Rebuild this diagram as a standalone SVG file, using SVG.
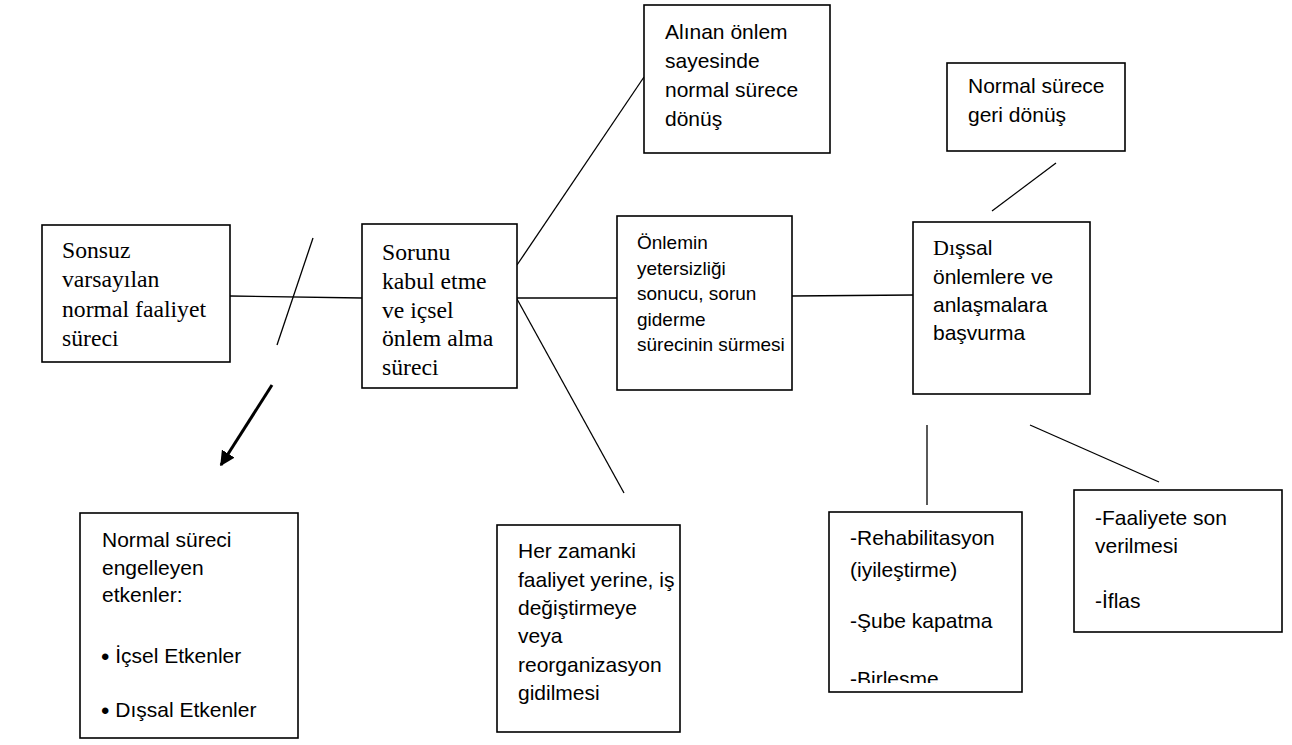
<svg xmlns="http://www.w3.org/2000/svg" width="1292" height="745" viewBox="0 0 1292 745">
<style>
.box{fill:#fff;stroke:#000;stroke-width:1.6}
.ser{font-family:"Liberation Serif","Times New Roman",serif;font-size:23.7px;fill:#000}
.san{font-family:"Liberation Sans",Arial,sans-serif;font-size:21px;fill:#000}
.sm{font-size:19px}
.ln{stroke:#000;stroke-width:1.3;fill:none}
.bul{font-size:24px}
</style>
<defs>
<marker id="ah" viewBox="0 0 10 10" refX="9" refY="5" markerWidth="5" markerHeight="5" orient="auto" markerUnits="strokeWidth">
<path d="M0,0 L10,5 L0,10 z" fill="#000"/>
</marker>
<clipPath id="c8"><rect x="829" y="512" width="193" height="171"/></clipPath>
</defs>
<rect width="1292" height="745" fill="#fff"/>
<g id="connectors">
<line class="ln" x1="230" y1="296" x2="362" y2="298"/>
<line class="ln" x1="313" y1="238" x2="277" y2="345"/>
<line class="ln" x1="517" y1="265" x2="644" y2="77"/>
<line class="ln" x1="517" y1="299" x2="624" y2="493"/>
<line class="ln" x1="517" y1="298" x2="617" y2="298"/>
<line class="ln" x1="792" y1="296" x2="913" y2="295"/>
<line class="ln" x1="1056" y1="163" x2="992" y2="211"/>
<line class="ln" x1="927" y1="425" x2="927" y2="505"/>
<line class="ln" x1="1030" y1="425" x2="1159" y2="482"/>
<line x1="272" y1="385" x2="221" y2="465" stroke="#000" stroke-width="3" marker-end="url(#ah)"/>
</g>
<g id="n1">
<rect class="box" x="42" y="225" width="188" height="137"/>
<text class="ser"><tspan x="62" y="258">Sonsuz</tspan><tspan x="62" y="287">varsayılan</tspan><tspan x="62" y="317">normal faaliyet</tspan><tspan x="62" y="346">süreci</tspan></text>
</g>
<g id="n2">
<rect class="box" x="362" y="224" width="155" height="164"/>
<text class="ser"><tspan x="382" y="260">Sorunu</tspan><tspan x="382" y="289">kabul etme</tspan><tspan x="382" y="318">ve içsel</tspan><tspan x="382" y="346">önlem alma</tspan><tspan x="382" y="375">süreci</tspan></text>
</g>
<g id="n3">
<rect class="box" x="617" y="216" width="175" height="174"/>
<text class="san sm"><tspan x="637" y="249">Önlemin</tspan><tspan x="637" y="275">yetersizliği</tspan><tspan x="637" y="300">sonucu, sorun</tspan><tspan x="637" y="326">giderme</tspan><tspan x="637" y="351">sürecinin sürmesi</tspan></text>
</g>
<g id="n4">
<rect class="box" x="644" y="5" width="186" height="148"/>
<text class="san"><tspan x="665" y="39">Alınan önlem</tspan><tspan x="665" y="68">sayesinde</tspan><tspan x="665" y="97">normal sürece</tspan><tspan x="665" y="126">dönüş</tspan></text>
</g>
<g id="n5">
<rect class="box" x="497" y="525" width="183" height="207"/>
<text class="san"><tspan x="518" y="558">Her zamanki</tspan><tspan x="518" y="587">faaliyet yerine, iş</tspan><tspan x="518" y="615">değiştirmeye</tspan><tspan x="518" y="643">veya</tspan><tspan x="518" y="672">reorganizasyon</tspan><tspan x="518" y="700">gidilmesi</tspan></text>
</g>
<g id="n6">
<rect class="box" x="913" y="222" width="177" height="172"/>
<text class="san"><tspan x="933" y="255"><tspan font-family="Liberation Serif, serif" font-size="22">Dı</tspan>şsal</tspan><tspan x="933" y="284">önlemlere ve</tspan><tspan x="933" y="312">anlaşmalara</tspan><tspan x="933" y="340">başvurma</tspan></text>
</g>
<g id="n7">
<rect class="box" x="947" y="63" width="178" height="88"/>
<text class="san"><tspan x="968" y="93">Normal sürece</tspan><tspan x="968" y="122">geri dönüş</tspan></text>
</g>
<g id="n8">
<rect class="box" x="829" y="512" width="193" height="180"/>
<text class="san" clip-path="url(#c8)"><tspan x="850" y="545">-Rehabilitasyon</tspan><tspan x="850" y="577">(iyileştirme)</tspan><tspan x="850" y="628">-Şube kapatma</tspan><tspan x="850" y="686">-Birlesme</tspan></text>
</g>
<g id="n9">
<rect class="box" x="1074" y="490" width="208" height="142"/>
<text class="san"><tspan x="1095" y="525">-Faaliyete son</tspan><tspan x="1095" y="553">verilmesi</tspan><tspan x="1095" y="608">-İflas</tspan></text>
</g>
<g id="n10">
<rect class="box" x="80" y="513" width="218" height="225"/>
<text class="san"><tspan x="102" y="547">Normal süreci</tspan><tspan x="102" y="575">engelleyen</tspan><tspan x="102" y="602">etkenler:</tspan><tspan x="101" y="664.5" class="bul">•</tspan><tspan y="663"> İçsel Etkenler</tspan><tspan x="101" y="718.5" class="bul">•</tspan><tspan y="717"> Dışsal Etkenler</tspan></text>
</g>
</svg>
